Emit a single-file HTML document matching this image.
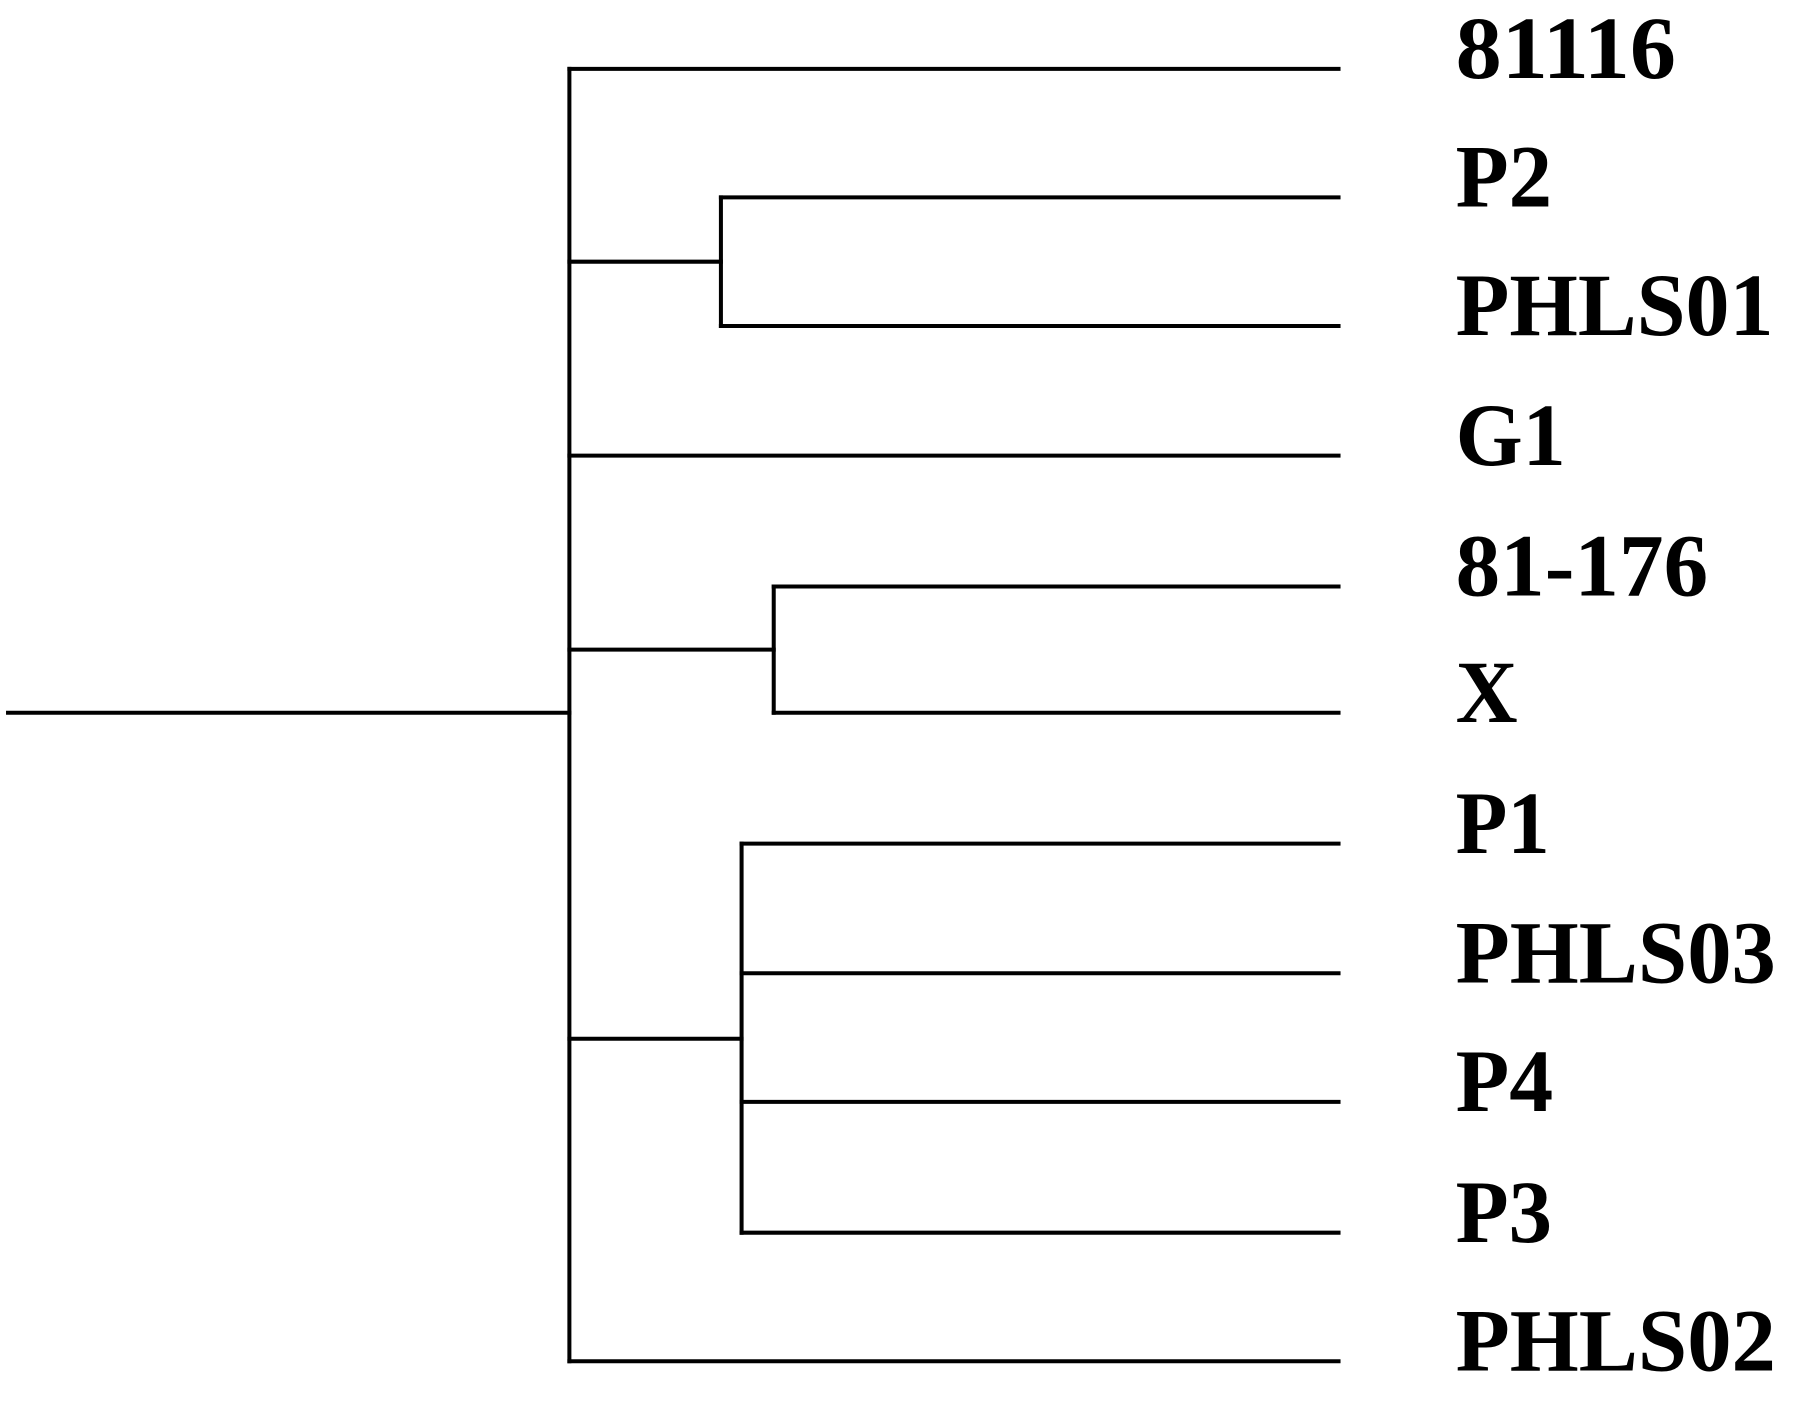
<!DOCTYPE html>
<html><head><style>html,body{margin:0;padding:0;background:#fff}svg{display:block}</style></head>
<body>
<svg width="1800" height="1406" viewBox="0 0 1568 1225" preserveAspectRatio="none" xmlns="http://www.w3.org/2000/svg">
<g stroke="#000" stroke-width="3.5" fill="none" stroke-linecap="square">
<line x1="7" y1="621" x2="496" y2="621"/>
<line x1="496" y1="60" x2="496" y2="1186"/>
<line x1="496" y1="60" x2="1166" y2="60"/>
<line x1="496" y1="228" x2="628" y2="228"/>
<line x1="628" y1="172" x2="628" y2="284"/>
<line x1="628" y1="172" x2="1166" y2="172"/>
<line x1="628" y1="284" x2="1166" y2="284"/>
<line x1="496" y1="397" x2="1166" y2="397"/>
<line x1="496" y1="566" x2="674" y2="566"/>
<line x1="674" y1="511" x2="674" y2="621"/>
<line x1="674" y1="511" x2="1166" y2="511"/>
<line x1="674" y1="621" x2="1166" y2="621"/>
<line x1="496" y1="905" x2="646" y2="905"/>
<line x1="646" y1="735" x2="646" y2="1074"/>
<line x1="646" y1="735" x2="1166" y2="735"/>
<line x1="646" y1="848" x2="1166" y2="848"/>
<line x1="646" y1="960" x2="1166" y2="960"/>
<line x1="646" y1="1074" x2="1166" y2="1074"/>
<line x1="496" y1="1186" x2="1166" y2="1186"/>
</g>
<g font-family="'Liberation Serif', serif" font-weight="bold" font-size="78" fill="#000">
<text x="1268" y="68" textLength="192" lengthAdjust="spacingAndGlyphs">81116</text>
<text x="1268" y="180" textLength="84" lengthAdjust="spacingAndGlyphs">P2</text>
<text x="1268" y="292" textLength="277" lengthAdjust="spacingAndGlyphs">PHLS01</text>
<text x="1268" y="405" textLength="96" lengthAdjust="spacingAndGlyphs">G1</text>
<text x="1268" y="519" textLength="220" lengthAdjust="spacingAndGlyphs">81-176</text>
<text x="1268" y="629" textLength="54" lengthAdjust="spacingAndGlyphs">X</text>
<text x="1268" y="743" textLength="82" lengthAdjust="spacingAndGlyphs">P1</text>
<text x="1268" y="856" textLength="279" lengthAdjust="spacingAndGlyphs">PHLS03</text>
<text x="1268" y="968" textLength="85" lengthAdjust="spacingAndGlyphs">P4</text>
<text x="1268" y="1082" textLength="84" lengthAdjust="spacingAndGlyphs">P3</text>
<text x="1268" y="1194" textLength="279" lengthAdjust="spacingAndGlyphs">PHLS02</text>
</g>
</svg>
</body></html>
